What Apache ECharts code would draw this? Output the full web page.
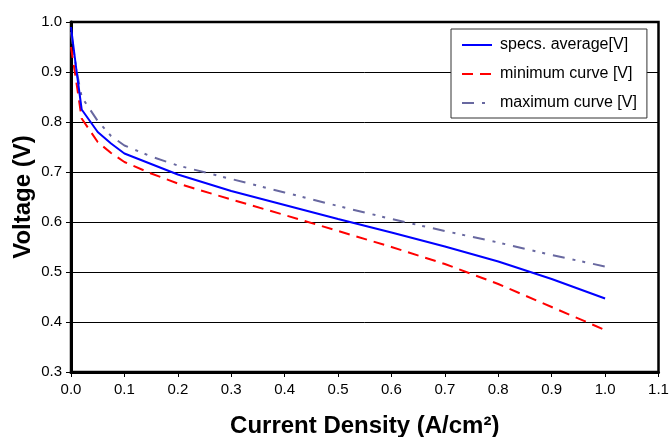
<!DOCTYPE html>
<html>
<head>
<meta charset="utf-8">
<script src="https://cdn.jsdelivr.net/npm/echarts@6/dist/echarts.min.js"></script>
<style>html,body{margin:0;padding:0;background:#fff;}#c{width:670px;height:437px;}</style>
</head>
<body>
<div id="c"></div>
<script>
var currentDensity = [0, 0.01, 0.02, 0.05, 0.075, 0.1, 0.15, 0.2, 0.3, 0.4, 0.5, 0.6, 0.7, 0.8, 0.9, 1.0];
var specsAverage = [0.99, 0.905, 0.825, 0.78, 0.757, 0.737, 0.716, 0.695, 0.662, 0.634, 0.606, 0.579, 0.551, 0.521, 0.486, 0.447];
var minimumCurve = [0.95, 0.88, 0.807, 0.76, 0.738, 0.72, 0.697, 0.677, 0.645, 0.614, 0.582, 0.55, 0.516, 0.476, 0.43, 0.384];
var maximumCurve = [0.98, 0.905, 0.85, 0.802, 0.772, 0.753, 0.731, 0.713, 0.686, 0.659, 0.632, 0.606, 0.582, 0.559, 0.534, 0.511];
var seriesNames = ['specs. average[V]', 'minimum curve [V]', 'maximum curve [V]'];
var xTitle = 'Current Density (A/cm\u00B2)';
var yTitle = 'Voltage (V)';

function pairs(ys) { return currentDensity.map(function (x, i) { return [x, ys[i]]; }); }

var FONT = '"Liberation Sans", Arial, sans-serif';
var chart = echarts.init(document.getElementById('c'), null, { renderer: 'canvas' });
chart.setOption({
  animation: false,
  backgroundColor: '#ffffff',
  grid: { left: 71, top: 22, right: 11.5, bottom: 65, containLabel: false, outerBoundsMode: 'none',
    show: true, borderColor: '#000', borderWidth: 2.5, backgroundColor: 'transparent' },
  legend: {
    orient: 'vertical',
    left: 451, top: 29,
    padding: [8, 10, 7, 10],
    itemWidth: 30, itemHeight: 14, itemGap: 13,
    backgroundColor: '#fff',
    borderColor: '#333', borderWidth: 1, borderRadius: 0,
    itemStyle: { opacity: 0 },
    textStyle: { fontFamily: FONT, fontSize: 16, color: '#000', padding: [0, 0, 0, 3] },
    data: seriesNames
  },
  xAxis: {
    type: 'value', min: 0, max: 1.1, interval: 0.1,
    name: xTitle, nameLocation: 'middle', nameGap: 42, nameMoveOverlap: false,
    nameTextStyle: { fontFamily: FONT, fontSize: 24, fontWeight: 'bold', color: '#000' },
    axisLine: { show: true, onZero: false, lineStyle: { color: '#000', width: 3 } },
    axisTick: { show: true, inside: false, length: 5, lineStyle: { color: '#000', width: 1 } },
    axisLabel: { fontFamily: FONT, fontSize: 15, color: '#000', margin: 10, formatter: function (v) { return v.toFixed(1); } },
    splitLine: { show: false }
  },
  yAxis: {
    type: 'value', min: 0.3, max: 1.0, interval: 0.1,
    name: yTitle, nameLocation: 'middle', nameGap: 36, nameMoveOverlap: false,
    nameTextStyle: { fontFamily: FONT, fontSize: 24, fontWeight: 'bold', color: '#000' },
    axisLine: { show: true, onZero: false, lineStyle: { color: '#000', width: 3 } },
    axisTick: { show: true, inside: false, length: 5, lineStyle: { color: '#000', width: 1 } },
    axisLabel: { fontFamily: FONT, fontSize: 15, color: '#000', margin: 9, formatter: function (v) { return v.toFixed(1); } },
    splitLine: { show: true, lineStyle: { color: '#000', width: 1 } }
  },
  series: [
    { name: seriesNames[0], type: 'line', data: pairs(specsAverage), showSymbol: false, symbol: 'none',
      lineStyle: { color: '#0000ff', width: 2 }, itemStyle: { color: '#0000ff' }, z: 4 },
    { name: seriesNames[1], type: 'line', data: pairs(minimumCurve), showSymbol: false, symbol: 'none',
      lineStyle: { color: '#ff0000', width: 2, type: [11, 7] }, itemStyle: { color: '#ff0000' }, z: 3 },
    { name: seriesNames[2], type: 'line', data: pairs(maximumCurve), showSymbol: false, symbol: 'none',
      lineStyle: { color: '#6868a0', width: 2, type: [12, 8, 3, 7, 3, 8] }, itemStyle: { color: '#6868a0' }, z: 2 }
  ]
});
</script>
</body>
</html>
